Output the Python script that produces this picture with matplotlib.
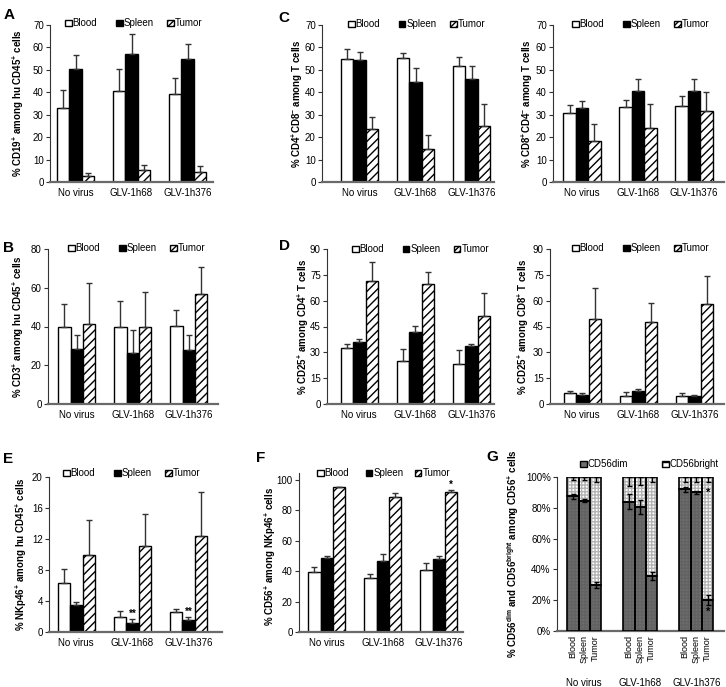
"""Seven-panel bar figure: immune cell fractions in blood, spleen and tumor
after GLV-1h68 / GLV-1h376 virus treatment (Excel-style bars)."""

import numpy as np
import matplotlib

matplotlib.use("Agg")
import matplotlib.pyplot as plt
from matplotlib.patches import Rectangle
from matplotlib.transforms import blended_transform_factory

plt.rcParams["font.family"] = ["Liberation Sans", "DejaVu Sans"]
plt.rcParams["mathtext.fontset"] = "custom"
plt.rcParams["mathtext.rm"] = "Liberation Sans"
plt.rcParams["mathtext.bf"] = "Liberation Sans:bold"
plt.rcParams["mathtext.default"] = "bf"
plt.rcParams["hatch.linewidth"] = 1.0

# ---- data -----------------------------------------------------------------
groups = ["No virus", "GLV-1h68", "GLV-1h376"]
tissues = ["Blood", "Spleen", "Tumor"]

# A: % CD19+ among hu CD45+
a_blood, a_blood_err = [33.2, 40.5, 39.2], [7.6, 10.1, 7.1]
a_spleen, a_spleen_err = [50.2, 56.9, 55.0], [6.4, 9.1, 6.4]
a_tumor, a_tumor_err = [2.8, 5.2, 4.6], [1.4, 2.5, 2.7]

# B: % CD3+ among hu CD45+
b_blood, b_blood_err = [39.5, 39.8, 40.1], [12.3, 13.2, 8.6]
b_spleen, b_spleen_err = [28.6, 26.4, 27.8], [7.1, 11.6, 7.9]
b_tumor, b_tumor_err = [41.5, 39.8, 57.0], [21.1, 18.0, 13.7]

# C (left): % CD4+CD8- among T cells
c4_blood, c4_blood_err = [54.7, 55.2, 51.9], [4.7, 2.4, 3.7]
c4_spleen, c4_spleen_err = [54.4, 44.5, 46.0], [3.5, 6.5, 5.9]
c4_tumor, c4_tumor_err = [23.7, 14.7, 25.0], [5.1, 6.3, 9.8]

# C (right): % CD8+CD4- among T cells
c8_blood, c8_blood_err = [30.7, 33.6, 33.7], [3.5, 2.8, 4.5]
c8_spleen, c8_spleen_err = [32.8, 40.6, 40.6], [3.3, 5.4, 5.4]
c8_tumor, c8_tumor_err = [18.4, 24.1, 31.6], [7.4, 10.5, 8.4]

# D (left): % CD25+ among CD4+ T cells
d4_blood, d4_blood_err = [32.3, 25.2, 23.4], [2.5, 6.5, 7.8]
d4_spleen, d4_spleen_err = [36.2, 41.8, 33.7], [1.3, 3.3, 1.3]
d4_tumor, d4_tumor_err = [71.6, 69.7, 50.9], [10.7, 6.9, 13.7]

# D (right): % CD25+ among CD8+ T cells
d8_blood, d8_blood_err = [6.2, 4.5, 4.8], [1.5, 2.7, 1.8]
d8_spleen, d8_spleen_err = [5.4, 7.5, 4.6], [0.8, 1.0, 0.6]
d8_tumor, d8_tumor_err = [49.5, 47.8, 58.0], [18.0, 11.0, 16.3]

# E: % NKp46+ among hu CD45+
e_blood, e_blood_err = [6.3, 2.0, 2.6], [1.8, 0.65, 0.4]
e_spleen, e_spleen_err = [3.5, 1.15, 1.6], [0.4, 0.5, 0.4]
e_tumor, e_tumor_err = [10.0, 11.1, 12.4], [4.5, 4.1, 5.7]
e_spleen_stars = ["", "**", "**"]

# F: % CD56+ among NKp46+
f_blood, f_blood_err = [39.3, 35.5, 41.0], [3.7, 2.7, 4.2]
f_spleen, f_spleen_err = [48.5, 46.5, 48.0], [1.3, 4.8, 1.8]
f_tumor, f_tumor_err = [95.2, 88.6, 92.3], [0.4, 2.8, 0.9]
f_tumor_stars = ["", "", "*"]

# G: CD56dim share (rest is CD56bright), per group: blood, spleen, tumor
g_dim = [[87.5, 84.5, 30.0], [84.0, 80.7, 35.8], [92.0, 90.0, 20.2]]
g_dim_err = [[1.5, 1.0, 2.0], [5.0, 4.5, 2.5], [1.5, 1.0, 3.0]]
g_bright_err = [[2.0, 2.0, 3.0], [6.0, 5.0, 3.5], [3.5, 3.5, 3.0]]
g_dim_stars = [["", "", ""], ["", "", ""], ["", "", "*"]]
g_bright_stars = [["", "", ""], ["", "", ""], ["", "", "*"]]

# ---- style ----------------------------------------------------------------
W, H = 726, 687
SPACING = 56.0          # px between group centres
BAR_W = 12.4 / SPACING  # bar width in data units
G_BAR_W = 11.4 / SPACING
ERR_COLOR = "#333333"
AXIS_COLOR = "#333333"
BASE_COLOR = "#6a6a6a"
TICK_FS = 7
LABEL_FS = 7
LEGEND_FS = 7
LETTER_FS = 11
DIM_FACE = "#6e6e6e"
DIM_HATCH = "#626262"
BRIGHT_HATCH = "#b4b4b4"

fig = plt.figure(figsize=(W / 100, H / 100), dpi=100)
fig.patch.set_facecolor("white")


def fx(x):
    return x / W


def fy(y):
    return 1 - y / H


def add_ax(left, top, right, bottom, c0):
    ax = fig.add_axes([fx(left), fy(bottom), (right - left) / W, (bottom - top) / H])
    ax.set_xlim((left - c0) / SPACING, (right - c0) / SPACING)
    for s in ("top", "right"):
        ax.spines[s].set_visible(False)
    ax.spines["left"].set_color(AXIS_COLOR)
    ax.spines["left"].set_linewidth(0.8)
    ax.spines["bottom"].set_color(BASE_COLOR)
    ax.spines["bottom"].set_linewidth(1.6)
    ax.tick_params(axis="y", direction="out", length=3, width=0.8,
                   color=AXIS_COLOR, labelsize=TICK_FS, pad=1.5)
    ax.tick_params(axis="x", length=0, labelsize=TICK_FS, pad=4)
    ax.set_facecolor("none")
    return ax


def ylabel(x, top, bottom, text):
    fig.text(fx(x), fy((top + bottom) / 2), text, rotation=90, ha="center",
             va="center", fontsize=LABEL_FS, weight="bold")


def letter(x, y, text):
    fig.text(fx(x), fy(y), text, ha="center", va="center",
             fontsize=LETTER_FS, weight="bold")


def square(x, y, size=6.5, **style):
    fig.add_artist(Rectangle((fx(x), fy(y + size / 2)), size / W, size / H,
                             transform=fig.transFigure, **style))


def tissue_legend(x0, y, step=51):
    styles = [dict(facecolor="white", edgecolor="black", linewidth=1.0),
              dict(facecolor="black", edgecolor="black", linewidth=1.0),
              dict(facecolor="white", edgecolor="black", linewidth=1.0,
                   hatch="//////")]
    for i, (name, st) in enumerate(zip(tissues, styles)):
        square(x0 + i * step, y, **st)
        fig.text(fx(x0 + i * step + 7.5), fy(y), name, ha="left", va="center",
                 fontsize=LEGEND_FS)


def bar_panel(ax, blood, blood_err, spleen, spleen_err, tumor, tumor_err):
    x = np.arange(len(groups))
    series = [
        (blood, blood_err, dict(color="white")),
        (spleen, spleen_err, dict(color="black")),
        (tumor, tumor_err, dict(color="white", hatch="////")),
    ]
    for i, (vals, errs, st) in enumerate(series):
        xs = x + (i - 1) * BAR_W
        ax.bar(xs, vals, BAR_W, edgecolor="black", linewidth=1.0, zorder=2, **st)
        ax.errorbar(xs, vals, yerr=[np.zeros(len(vals)), errs], fmt="none",
                    ecolor=ERR_COLOR, elinewidth=1.0, capsize=2, capthick=1.0,
                    zorder=3)
    ax.set_xticks(x, groups)


def stars(ax, offset, vals, errs, marks):
    for i, (v, e, m) in enumerate(zip(vals, errs, marks)):
        if m:
            ax.text(i + offset * BAR_W, v + e, m, ha="center", va="bottom",
                    fontsize=7, weight="bold")


# ---- A --------------------------------------------------------------------
ax = add_ax(50, 25, 213, 182, 75.5)
bar_panel(ax, a_blood, a_blood_err, a_spleen, a_spleen_err, a_tumor, a_tumor_err)
ax.set_ylim(0, 70)
ax.set_yticks(range(0, 71, 10))
ylabel(18, 25, 182, r"% CD19$^{+}$ among hu CD45$^{+}$ cells")
letter(9, 15, "A")
tissue_legend(65, 23)

# ---- C left ---------------------------------------------------------------
ax = add_ax(322, 25, 494, 182, 359.5)
bar_panel(ax, c4_blood, c4_blood_err, c4_spleen, c4_spleen_err, c4_tumor, c4_tumor_err)
ax.set_ylim(0, 70)
ax.set_yticks(range(0, 71, 10))
ylabel(297, 25, 182, r"% CD4$^{+}$CD8$^{-}$ among T cells")
letter(284, 18, "C")
tissue_legend(348, 24)

# ---- C right --------------------------------------------------------------
ax = add_ax(553, 25, 724, 182, 582)
bar_panel(ax, c8_blood, c8_blood_err, c8_spleen, c8_spleen_err, c8_tumor, c8_tumor_err)
ax.set_ylim(0, 70)
ax.set_yticks(range(0, 71, 10))
ylabel(527, 25, 182, r"% CD8$^{+}$CD4$^{-}$ among T cells")
tissue_legend(572, 24)

# ---- B --------------------------------------------------------------------
ax = add_ax(48, 249, 218, 404, 76.8)
bar_panel(ax, b_blood, b_blood_err, b_spleen, b_spleen_err, b_tumor, b_tumor_err)
ax.set_ylim(0, 80)
ax.set_yticks(range(0, 81, 20))
ylabel(18, 249, 404, r"% CD3$^{+}$ among hu CD45$^{+}$ cells")
letter(8, 248, "B")
tissue_legend(68, 248)

# ---- D left ---------------------------------------------------------------
ax = add_ax(327, 249, 494, 404, 359.3)
bar_panel(ax, d4_blood, d4_blood_err, d4_spleen, d4_spleen_err, d4_tumor, d4_tumor_err)
ax.set_ylim(0, 90)
ax.set_yticks(range(0, 91, 15))
ylabel(303, 249, 404, r"% CD25$^{+}$ among CD4$^{+}$ T cells")
letter(284, 246, "D")
tissue_legend(352, 249)

# ---- D right --------------------------------------------------------------
ax = add_ax(550, 249, 724, 404, 582.3)
bar_panel(ax, d8_blood, d8_blood_err, d8_spleen, d8_spleen_err, d8_tumor, d8_tumor_err)
ax.set_ylim(0, 90)
ax.set_yticks(range(0, 91, 15))
ylabel(523, 249, 404, r"% CD25$^{+}$ among CD8$^{+}$ T cells")
tissue_legend(572, 248)

# ---- E --------------------------------------------------------------------
ax = add_ax(49, 477, 222, 632, 76.3)
bar_panel(ax, e_blood, e_blood_err, e_spleen, e_spleen_err, e_tumor, e_tumor_err)
ax.set_ylim(0, 20)
ax.set_yticks(range(0, 21, 4))
stars(ax, 0, e_spleen, e_spleen_err, e_spleen_stars)
ylabel(21, 477, 632, r"% NKp46$^{+}$ among hu CD45$^{+}$ cells")
letter(8, 459, "E")
tissue_legend(63, 473)

# ---- F --------------------------------------------------------------------
ax = add_ax(299, 473, 463, 632, 326.7)
bar_panel(ax, f_blood, f_blood_err, f_spleen, f_spleen_err, f_tumor, f_tumor_err)
ax.set_ylim(0, 104.6)
ax.set_yticks(range(0, 101, 20))
stars(ax, 1, f_tumor, f_tumor_err, f_tumor_stars)
ylabel(270, 480, 632, r"% CD56$^{+}$ among NKp46$^{+}$ cells")
letter(261, 458, "F")
tissue_legend(317, 473, step=49)

# ---- G --------------------------------------------------------------------
ax = add_ax(557, 477, 724, 631, 584.3)
ax.set_ylim(0, 100)
ax.set_yticks(range(0, 101, 20), [f"{v}%" for v in range(0, 101, 20)])
tick_pos, tick_lab = [], []
for g in range(len(groups)):
    xs = g + (np.arange(3) - 1) * G_BAR_W
    dim = np.array(g_dim[g])
    bright = 100 - dim
    ax.bar(xs, dim, G_BAR_W, color=DIM_FACE, hatch="+++++", edgecolor=DIM_HATCH,
           linewidth=0, zorder=2)
    ax.bar(xs, bright, G_BAR_W, bottom=dim, color="white", hatch="+++++",
           edgecolor=BRIGHT_HATCH, linewidth=0, zorder=2)
    ax.bar(xs, dim, G_BAR_W, fill=False, edgecolor="black", linewidth=1.2, zorder=3)
    ax.bar(xs, bright, G_BAR_W, bottom=dim, fill=False, edgecolor="black",
           linewidth=1.2, zorder=3)
    ax.errorbar(xs, dim, yerr=g_dim_err[g], fmt="none", ecolor="black",
                elinewidth=1.0, capsize=1.8, capthick=1.0, zorder=4)
    ax.errorbar(xs, np.full(3, 100.0), yerr=[g_bright_err[g], np.zeros(3)],
                fmt="none", ecolor="black", elinewidth=1.0, capsize=1.8,
                capthick=1.0, zorder=4)
    for i in range(3):
        if g_dim_stars[g][i]:
            ax.text(xs[i], dim[i] - 8, g_dim_stars[g][i], ha="center",
                    va="center", fontsize=8, weight="bold", zorder=5)
        if g_bright_stars[g][i]:
            ax.text(xs[i], 90, g_bright_stars[g][i], ha="center",
                    va="center", fontsize=8, weight="bold", zorder=5)
    tick_pos.extend(xs)
    tick_lab.extend(tissues)
ax.set_xticks(tick_pos, tick_lab, rotation=90, fontsize=6.5)
ax.tick_params(axis="x", pad=3)
trans = blended_transform_factory(ax.transData, fig.transFigure)
for g, name in enumerate(groups):
    ax.text(g, fy(683), name, transform=trans, ha="center", va="center",
            fontsize=TICK_FS)
ylabel(513, 477, 631,
       r"% CD56$^{dim}$ and CD56$^{bright}$ among CD56$^{+}$ cells")
letter(492, 457, "G")
square(580, 464, facecolor=DIM_FACE, edgecolor="black", linewidth=1.0)
fig.text(fx(587.5), fy(464), "CD56dim", ha="left", va="center", fontsize=LEGEND_FS)
square(662, 464, facecolor="white", edgecolor="black", linewidth=1.0, hatch="++")
fig.text(fx(669.5), fy(464), "CD56bright", ha="left", va="center",
         fontsize=LEGEND_FS)

fig.savefig("out.png", dpi=100, facecolor="white")
